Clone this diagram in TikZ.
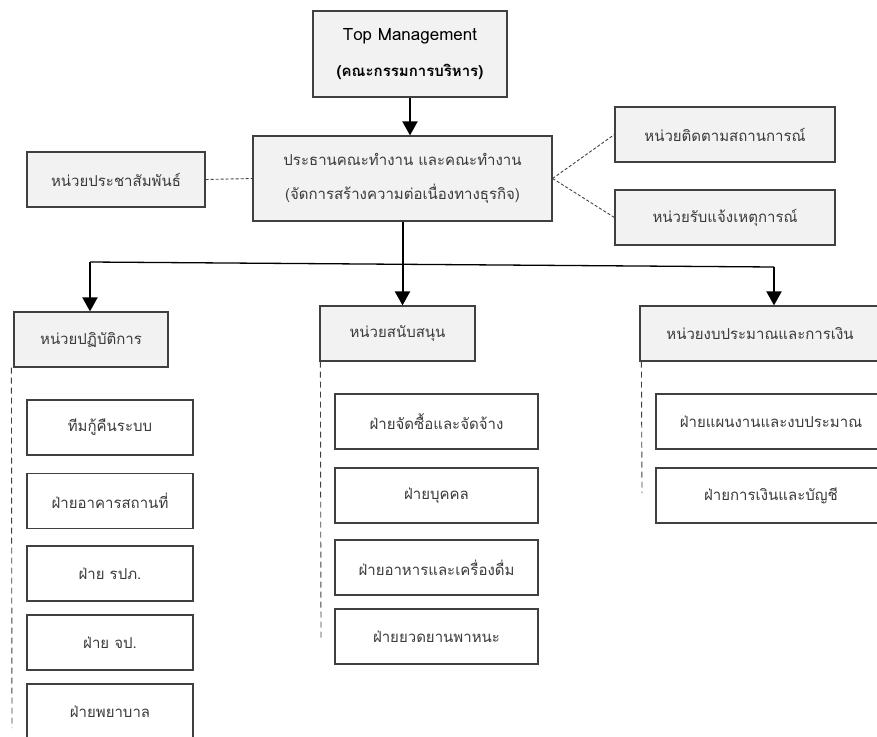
\documentclass[tikz,border=0pt]{standalone}
\usepackage{fontspec}
\setmainfont[Script=Thai]{Loma}
\usetikzlibrary{arrows.meta}
\definecolor{boxline}{HTML}{404040}
\definecolor{boxfill}{HTML}{F2F2F2}
\definecolor{txt}{HTML}{3A3A3A}
\tikzset{
  x=1pt,y=-1pt,
  base/.style={draw=boxline,line width=1.2pt,text=txt,align=center,inner sep=0pt,
    font=\fontsize{15}{34}\selectfont},
  head/.style={base,fill=boxfill},
  sub/.style={base,fill=white},
  arr/.style={line width=2pt,black,-{Triangle[length=14pt,width=15pt]}},
  dashlink/.style={line width=0.9pt,boxline,dash pattern=on 3pt off 2pt},
  dashside/.style={line width=0.9pt,boxline,dash pattern=on 6pt off 4pt},
}
\begin{document}
\begin{tikzpicture}
\useasboundingbox (0,0) rectangle (877,736);
\clip (0,0) rectangle (877,736);
% top level
\node[head,minimum width=194pt,minimum height=86pt,text=black,font=\fontsize{15}{36}\selectfont] (top) at (410,54)
  {{\fontsize{17}{36}\selectfont Top Management}\\\textbf{(คณะกรรมการบริหาร)}};
\node[head,minimum width=299pt,minimum height=85pt] (chair) at (402.5,178.5)
  {ประธานคณะทำงาน และคณะทำงาน\\(จัดการสร้างความต่อเนื่องทางธุรกิจ)};
\node[head,minimum width=178pt,minimum height=55pt] (pr) at (116,179.5) {หน่วยประชาสัมพันธ์};
\node[head,minimum width=220pt,minimum height=55pt] (mon) at (725,134.5) {หน่วยติดตามสถานการณ์};
\node[head,minimum width=220pt,minimum height=55pt] (rep) at (725,217.5) {หน่วยรับแจ้งเหตุการณ์};
% second level
\node[head,minimum width=154pt,minimum height=55pt] (ops) at (91,339.5) {หน่วยปฏิบัติการ};
\node[head,minimum width=155pt,minimum height=55pt] (sup) at (397.5,333.5) {หน่วยสนับสนุน};
\node[head,minimum width=240pt,minimum height=55pt] (bud) at (760,333.5) {หน่วยงบประมาณและการเงิน};
% ops subunits
\node[sub,minimum width=166pt,minimum height=55pt] (o1) at (110,427.5) {ทีมกู้คืนระบบ};
\node[sub,minimum width=166pt,minimum height=55pt] (o2) at (110,501) {ฝ่ายอาคารสถานที่};
\node[sub,minimum width=166pt,minimum height=55pt] (o3) at (110,573.5) {ฝ่าย รปภ.};
\node[sub,minimum width=166pt,minimum height=55pt] (o4) at (110,642.5) {ฝ่าย จป.};
\node[sub,minimum width=166pt,minimum height=55pt] (o5) at (110,711.5) {ฝ่ายพยาบาล};
% support subunits
\node[sub,minimum width=203pt,minimum height=55pt] (s1) at (436.5,421.5) {ฝ่ายจัดซื้อและจัดจ้าง};
\node[sub,minimum width=203pt,minimum height=55pt] (s2) at (436.5,495.5) {ฝ่ายบุคคล};
\node[sub,minimum width=203pt,minimum height=55pt] (s3) at (436.5,567.5) {ฝ่ายอาหารและเครื่องดื่ม};
\node[sub,minimum width=203pt,minimum height=55pt] (s4) at (436.5,636.5) {ฝ่ายยวดยานพาหนะ};
% budget subunits
\node[sub,minimum width=230pt,minimum height=55pt] (b1) at (771,421.5) {ฝ่ายแผนงานและงบประมาณ};
\node[sub,minimum width=230pt,minimum height=55pt] (b2) at (771,495.5) {ฝ่ายการเงินและบัญชี};
% connectors
\draw[arr] (top.south) -- (top.south |- chair.north);
\draw[dashlink] (pr.east) -- (chair.west);
\draw[dashlink] (chair.east) -- (mon.west);
\draw[dashlink] (chair.east) -- (rep.west);
\coordinate (hl) at (90,262);
\coordinate (hr) at (774,267);
\draw[line width=1.3pt] (hl) -- (hr);
\draw[arr] (chair.south) -- (chair.south |- sup.north);
\draw[arr] (hl) -- (hl |- ops.north);
\draw[arr] (hr) -- (hr |- bud.north);
\coordinate (oe) at (12,728);
\coordinate (se) at (321,638);
\coordinate (be) at (642,493);
\draw[dashside] (ops.south west) ++(-2,0) -- (oe);
\draw[dashside] (sup.south west) ++(1,0) -- (se);
\draw[dashside] (bud.south west) ++(2,0) -- (be);
\end{tikzpicture}
\end{document}
